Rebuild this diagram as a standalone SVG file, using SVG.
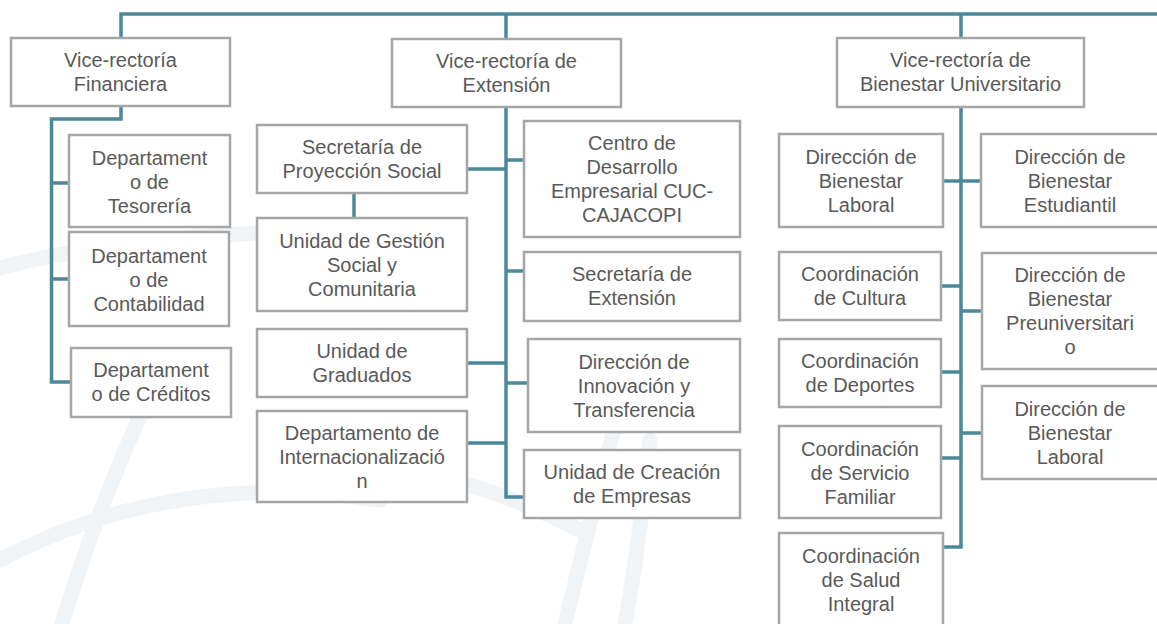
<svg xmlns="http://www.w3.org/2000/svg" width="1157" height="624" viewBox="0 0 1157 624">
<style>
.box{fill:#ffffff;stroke:#a6a6a6;stroke-width:2.5}
.t{font-family:"Liberation Sans",Arial,sans-serif;font-size:20px;fill:#595959;text-anchor:middle}
.c{fill:none;stroke:#4b889a;stroke-width:3.5;stroke-linejoin:miter}
.wm{fill:none;stroke:#f1f4f7;stroke-width:15;stroke-linecap:round}
</style>
<rect width="1157" height="624" fill="#ffffff"/>
<g id="watermark">
<path class="wm" d="M0,268 Q150,228 380,232"/>
<path class="wm" d="M62,624 Q100,500 150,395"/>
<path class="wm" d="M0,560 Q170,470 380,500"/>
<path class="wm" d="M380,462 Q480,480 580,530"/>
<path class="wm" d="M565,624 Q590,520 614,430"/>
<path class="wm" d="M625,624 Q640,540 650,440"/>
</g>
<g id="connectors">
<path class="c" d="M121,38 V14 H1157"/>
<path class="c" d="M506,14 V39"/>
<path class="c" d="M961,14 V38"/>
<path class="c" d="M121,106 V119 H51.5 V382 H71"/>
<path class="c" d="M51.5,183 H69 M51.5,279 H69"/>
<path class="c" d="M506,107 V497 H524"/>
<path class="c" d="M467,169 H506 M506,160 H524 M506,271 H524 M467,363 H506 M506,383 H528 M467,443 H506"/>
<path class="c" d="M354,193 V218"/>
<path class="c" d="M961,107 V547 H943"/>
<path class="c" d="M943,181 H981 M941,286 H961 M961,311 H982 M941,372 H961 M961,433 H982 M941,458 H961"/>
</g>
<g id="vf"><rect class="box" x="11" y="38" width="219" height="68"/><text class="t" x="120.5" y="67">Vice-rectoría</text><text class="t" x="120.5" y="91">Financiera</text></g>
<g id="ve"><rect class="box" x="392" y="39" width="229" height="68"/><text class="t" x="506.5" y="68">Vice-rectoría de</text><text class="t" x="506.5" y="92">Extensión</text></g>
<g id="vb"><rect class="box" x="837" y="38" width="247" height="69"/><text class="t" x="960.5" y="67">Vice-rectoría de</text><text class="t" x="960.5" y="91">Bienestar Universitario</text></g>
<g id="tesoreria"><rect class="box" x="69" y="135" width="161" height="92"/><text class="t" x="149.5" y="165">Departament</text><text class="t" x="149.5" y="189">o de</text><text class="t" x="149.5" y="213">Tesorería</text></g>
<g id="contabilidad"><rect class="box" x="69" y="232" width="160" height="94"/><text class="t" x="149" y="263">Departament</text><text class="t" x="149" y="287">o de</text><text class="t" x="149" y="311">Contabilidad</text></g>
<g id="creditos"><rect class="box" x="71" y="348" width="160" height="69"/><text class="t" x="151" y="377">Departament</text><text class="t" x="151" y="401">o de Créditos</text></g>
<g id="sps"><rect class="box" x="257" y="125" width="210" height="68"/><text class="t" x="362" y="154">Secretaría de</text><text class="t" x="362" y="178">Proyección Social</text></g>
<g id="ugs"><rect class="box" x="257" y="218" width="210" height="93"/><text class="t" x="362" y="248">Unidad de Gestión</text><text class="t" x="362" y="272">Social y</text><text class="t" x="362" y="296">Comunitaria</text></g>
<g id="ug"><rect class="box" x="257" y="329" width="210" height="68"/><text class="t" x="362" y="358">Unidad de</text><text class="t" x="362" y="382">Graduados</text></g>
<g id="dint"><rect class="box" x="257" y="411" width="210" height="91"/><text class="t" x="362" y="440">Departamento de</text><text class="t" x="362" y="464">Internacionalizació</text><text class="t" x="362" y="488">n</text></g>
<g id="cde"><rect class="box" x="524" y="121" width="216" height="116"/><text class="t" x="632" y="150">Centro de</text><text class="t" x="632" y="174">Desarrollo</text><text class="t" x="632" y="198">Empresarial CUC-</text><text class="t" x="632" y="222">CAJACOPI</text></g>
<g id="se"><rect class="box" x="524" y="252" width="216" height="69"/><text class="t" x="632" y="281">Secretaría de</text><text class="t" x="632" y="305">Extensión</text></g>
<g id="dii"><rect class="box" x="528" y="339" width="212" height="93"/><text class="t" x="634" y="369">Dirección de</text><text class="t" x="634" y="393">Innovación y</text><text class="t" x="634" y="417">Transferencia</text></g>
<g id="uce"><rect class="box" x="524" y="450" width="216" height="68"/><text class="t" x="632" y="479">Unidad de Creación</text><text class="t" x="632" y="503">de Empresas</text></g>
<g id="dbl"><rect class="box" x="779" y="134" width="164" height="93"/><text class="t" x="861" y="164">Dirección de</text><text class="t" x="861" y="188">Bienestar</text><text class="t" x="861" y="212">Laboral</text></g>
<g id="dbe"><rect class="box" x="981" y="134" width="180" height="93"/><text class="t" x="1070" y="164">Dirección de</text><text class="t" x="1070" y="188">Bienestar</text><text class="t" x="1070" y="212">Estudiantil</text></g>
<g id="cc"><rect class="box" x="779" y="252" width="162" height="68"/><text class="t" x="860" y="281">Coordinación</text><text class="t" x="860" y="305">de Cultura</text></g>
<g id="dbp"><rect class="box" x="982" y="253" width="180" height="116"/><text class="t" x="1070" y="282">Dirección de</text><text class="t" x="1070" y="306">Bienestar</text><text class="t" x="1070" y="330">Preuniversitari</text><text class="t" x="1070" y="354">o</text></g>
<g id="cd"><rect class="box" x="779" y="339" width="162" height="68"/><text class="t" x="860" y="368">Coordinación</text><text class="t" x="860" y="392">de Deportes</text></g>
<g id="dbl2"><rect class="box" x="982" y="386" width="180" height="93"/><text class="t" x="1070" y="416">Dirección de</text><text class="t" x="1070" y="440">Bienestar</text><text class="t" x="1070" y="464">Laboral</text></g>
<g id="csf"><rect class="box" x="779" y="426" width="162" height="92"/><text class="t" x="860" y="456">Coordinación</text><text class="t" x="860" y="480">de Servicio</text><text class="t" x="860" y="504">Familiar</text></g>
<g id="csi"><rect class="box" x="779" y="533" width="164" height="96"/><text class="t" x="861" y="563">Coordinación</text><text class="t" x="861" y="587">de Salud</text><text class="t" x="861" y="611">Integral</text></g>
</svg>
